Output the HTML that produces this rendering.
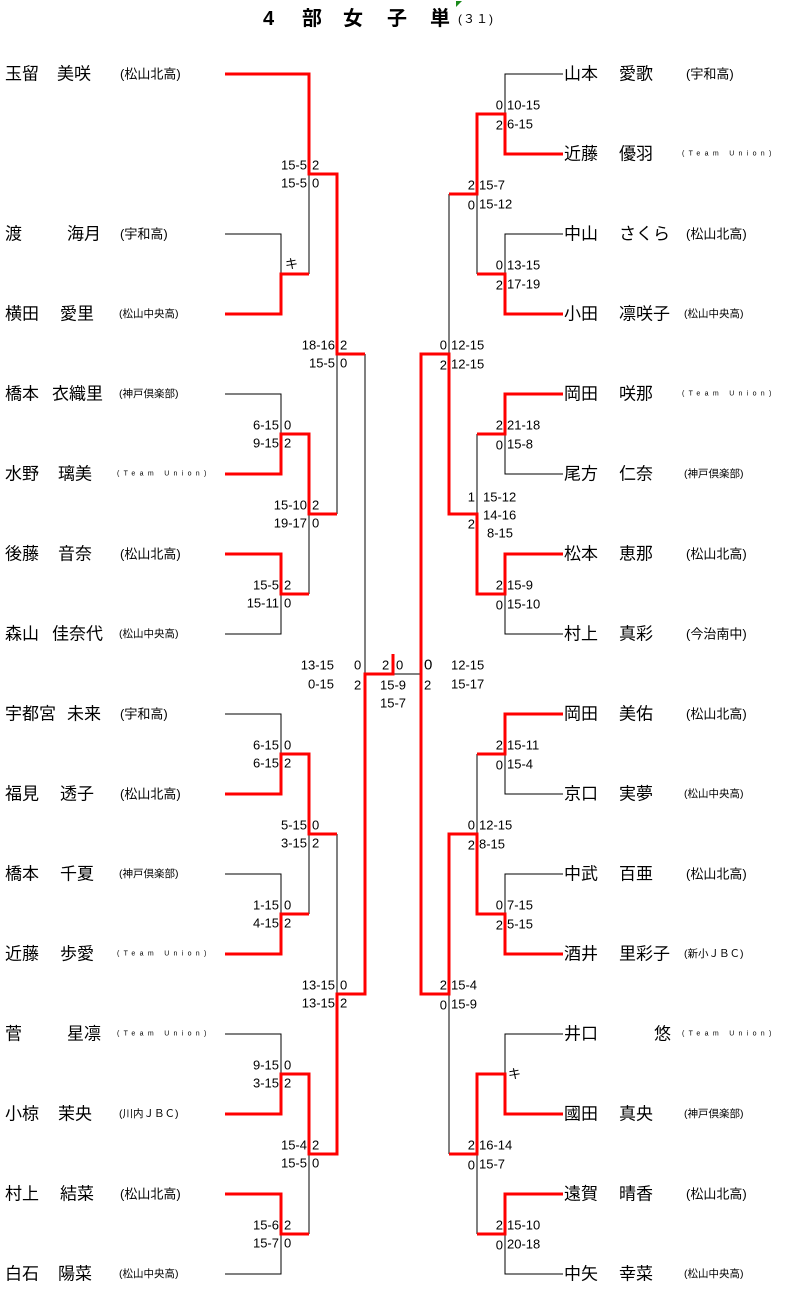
<!DOCTYPE html>
<html><head><meta charset="utf-8"><style>
html,body{margin:0;padding:0;background:#fff;}
svg{display:block;}
text{font-family:"Liberation Sans","Noto Sans CJK JP",sans-serif;fill:#000;dominant-baseline:central;}
.n{font-size:17px;}
.t{font-size:13px;}
.s{font-size:10.5px;}
.u{font-size:7px;letter-spacing:4.3px;}
.c{font-size:13px;}
.h{font-size:20px;font-weight:bold;}
</style></head><body>
<svg width="787" height="1297" viewBox="0 0 787 1297" xmlns="http://www.w3.org/2000/svg">
<text class="h" x="263" y="19">4</text>
<text class="h" x="302" y="19">部</text>
<text class="h" x="343" y="19">女</text>
<text class="h" x="387" y="19">子</text>
<text class="h" x="430" y="19">単</text>
<text x="458" y="19" style="font-size:12px;letter-spacing:1px">(３１)</text>
<polygon points="456,1 462,1 456,7" fill="#1a8a1a"/>

<g fill="none" stroke="#000" stroke-width="1">
<path d="M225,74H309M225,234H281V314H225M281,274H309M309,74V274M309,174H337"/>
<path d="M225,394H281V474H225M281,434H309M225,554H281V634H225M281,594H309M309,434V594M309,514H337M337,174V514M337,354H365"/>
<path d="M225,714H281V794H225M281,754H309M225,874H281V954H225M281,914H309M309,754V914M309,834H337"/>
<path d="M225,1034H281V1114H225M281,1074H309M225,1194H281V1274H225M281,1234H309M309,1074V1234M309,1154H337M337,834V1154M337,994H365M365,354V994"/>
<path d="M365,674H421"/>
<path d="M563,74H505V154H563M505,114H477M563,234H505V314H563M505,274H477M477,114V274M477,194H449"/>
<path d="M563,394H505V474H563M505,434H477M563,554H505V634H563M505,594H477M477,434V594M477,514H449M449,194V514M449,354H421"/>
<path d="M563,714H505V794H563M505,754H477M563,874H505V954H563M505,914H477M477,754V914M477,834H449"/>
<path d="M563,1034H505V1114H563M505,1074H477M563,1194H505V1274H563M505,1234H477M477,1074V1234M477,1154H449M449,834V1154M449,994H421M421,354V994"/>
</g>
<g fill="none" stroke="#f00" stroke-width="3">
<path d="M225,74H309V174H337V354H365"/>
<path d="M225,314H281V274H309"/>
<path d="M225,474H281V434H309V514H337"/>
<path d="M225,554H281V594H309"/>
<path d="M225,794H281V754H309V834H337"/>
<path d="M225,954H281V914H309"/>
<path d="M225,1114H281V1074H309V1154H337V994H365V674H393V654"/>
<path d="M225,1194H281V1234H309"/>
<path d="M563,154H505V114H477V194H449"/>
<path d="M563,314H505V274H477"/>
<path d="M563,394H505V434H477"/>
<path d="M563,554H505V594H477V514H449V354H421V994H449V834H477V914H505V954H563"/>
<path d="M563,714H505V754H477"/>
<path d="M563,1114H505V1074H477V1154H449"/>
<path d="M563,1194H505V1234H477"/>
</g>

<g class="n">
<text x="5" y="74">玉留</text><text x="57" y="74">美咲</text>
<text x="5" y="234">渡</text><text x="67" y="234">海月</text>
<text x="5" y="314">横田</text><text x="60" y="314">愛里</text>
<text x="5" y="394">橋本</text><text x="52" y="394">衣織里</text>
<text x="5" y="474">水野</text><text x="58" y="474">璃美</text>
<text x="5" y="554">後藤</text><text x="58" y="554">音奈</text>
<text x="5" y="634">森山</text><text x="52" y="634">佳奈代</text>
<text x="5" y="714">宇都宮</text><text x="67" y="714">未来</text>
<text x="5" y="794">福見</text><text x="60" y="794">透子</text>
<text x="5" y="874">橋本</text><text x="60" y="874">千夏</text>
<text x="5" y="954">近藤</text><text x="60" y="954">歩愛</text>
<text x="5" y="1034">菅</text><text x="67" y="1034">星凛</text>
<text x="5" y="1114">小椋</text><text x="58" y="1114">茉央</text>
<text x="5" y="1194">村上</text><text x="60" y="1194">結菜</text>
<text x="5" y="1274">白石</text><text x="58" y="1274">陽菜</text>
</g>
<text class="t" x="120" y="74">(松山北高)</text>
<text class="t" x="120" y="234">(宇和高)</text>
<text class="s" x="119" y="314">(松山中央高)</text>
<text class="s" x="119" y="394">(神戸倶楽部)</text>
<text class="u" x="117" y="474">(Team Union)</text>
<text class="t" x="120" y="554">(松山北高)</text>
<text class="s" x="119" y="634">(松山中央高)</text>
<text class="t" x="120" y="714">(宇和高)</text>
<text class="t" x="120" y="794">(松山北高)</text>
<text class="s" x="119" y="874">(神戸倶楽部)</text>
<text class="u" x="117" y="954">(Team Union)</text>
<text class="u" x="117" y="1034">(Team Union)</text>
<text class="s" x="119" y="1114">(川内ＪＢＣ)</text>
<text class="t" x="120" y="1194">(松山北高)</text>
<text class="s" x="119" y="1274">(松山中央高)</text>

<g class="n">
<text x="564" y="74">山本</text><text x="619" y="74">愛歌</text>
<text x="564" y="154">近藤</text><text x="619" y="154">優羽</text>
<text x="564" y="234">中山</text><text x="619" y="234">さくら</text>
<text x="564" y="314">小田</text><text x="619" y="314">凛咲子</text>
<text x="564" y="394">岡田</text><text x="619" y="394">咲那</text>
<text x="564" y="474">尾方</text><text x="619" y="474">仁奈</text>
<text x="564" y="554">松本</text><text x="619" y="554">恵那</text>
<text x="564" y="634">村上</text><text x="619" y="634">真彩</text>
<text x="564" y="714">岡田</text><text x="619" y="714">美佑</text>
<text x="564" y="794">京口</text><text x="619" y="794">実夢</text>
<text x="564" y="874">中武</text><text x="619" y="874">百亜</text>
<text x="564" y="954">酒井</text><text x="619" y="954">里彩子</text>
<text x="564" y="1034">井口</text><text x="654" y="1034">悠</text>
<text x="564" y="1114">國田</text><text x="619" y="1114">真央</text>
<text x="564" y="1194">遠賀</text><text x="619" y="1194">晴香</text>
<text x="564" y="1274">中矢</text><text x="619" y="1274">幸菜</text>
</g>
<text class="t" x="686" y="74">(宇和高)</text>
<text class="u" x="682" y="154">(Team Union)</text>
<text class="t" x="686" y="234">(松山北高)</text>
<text class="s" x="684" y="314">(松山中央高)</text>
<text class="u" x="682" y="394">(Team Union)</text>
<text class="s" x="684" y="474">(神戸倶楽部)</text>
<text class="t" x="686" y="554">(松山北高)</text>
<text class="t" x="686" y="634">(今治南中)</text>
<text class="t" x="686" y="714">(松山北高)</text>
<text class="s" x="684" y="794">(松山中央高)</text>
<text class="t" x="686" y="874">(松山北高)</text>
<text class="s" x="684" y="954">(新小ＪＢＣ)</text>
<text class="u" x="682" y="1034">(Team Union)</text>
<text class="s" x="684" y="1114">(神戸倶楽部)</text>
<text class="t" x="686" y="1194">(松山北高)</text>
<text class="s" x="684" y="1274">(松山中央高)</text>

<g class="c">
<g text-anchor="end">
<text x="279" y="425">6-15</text><text x="279" y="443">9-15</text>
<text x="279" y="585">15-5</text><text x="279" y="603">15-11</text>
<text x="279" y="745">6-15</text><text x="279" y="763">6-15</text>
<text x="279" y="905">1-15</text><text x="279" y="923">4-15</text>
<text x="279" y="1065">9-15</text><text x="279" y="1083">3-15</text>
<text x="279" y="1225">15-6</text><text x="279" y="1243">15-7</text>
<text x="307" y="165">15-5</text><text x="307" y="183">15-5</text>
<text x="307" y="505">15-10</text><text x="307" y="523">19-17</text>
<text x="307" y="825">5-15</text><text x="307" y="843">3-15</text>
<text x="307" y="1145">15-4</text><text x="307" y="1163">15-5</text>
<text x="335" y="345">18-16</text><text x="335" y="363">15-5</text>
<text x="335" y="985">13-15</text><text x="335" y="1003">13-15</text>
<text x="334" y="665">13-15</text><text x="334" y="684">0-15</text>
</g>
<text x="284" y="425">0</text><text x="284" y="443">2</text>
<text x="284" y="585">2</text><text x="284" y="603">0</text>
<text x="284" y="745">0</text><text x="284" y="763">2</text>
<text x="284" y="905">0</text><text x="284" y="923">2</text>
<text x="284" y="1065">0</text><text x="284" y="1083">2</text>
<text x="284" y="1225">2</text><text x="284" y="1243">0</text>
<text x="285" y="264">キ</text>
<text x="312" y="165">2</text><text x="312" y="183">0</text>
<text x="312" y="505">2</text><text x="312" y="523">0</text>
<text x="312" y="825">0</text><text x="312" y="843">2</text>
<text x="312" y="1145">2</text><text x="312" y="1163">0</text>
<text x="340" y="345">2</text><text x="340" y="363">0</text>
<text x="340" y="985">0</text><text x="340" y="1003">2</text>
<text x="354" y="665">0</text><text x="354" y="685">2</text>
<text x="382" y="665">2</text><text x="396" y="665">0</text>
<text x="393" y="685" text-anchor="middle">15-9</text><text x="393" y="703" text-anchor="middle">15-7</text>
<text x="424" y="665" style="font-size:15px">0</text><text x="424" y="685">2</text>
<text x="451" y="665">12-15</text><text x="451" y="684">15-17</text>
</g>

<g class="c">
<g text-anchor="end">
<text x="503" y="105">0</text><text x="503" y="125">2</text>
<text x="503" y="265">0</text><text x="503" y="285">2</text>
<text x="503" y="425">2</text><text x="503" y="445">0</text>
<text x="503" y="585">2</text><text x="503" y="605">0</text>
<text x="503" y="745">2</text><text x="503" y="765">0</text>
<text x="503" y="905">0</text><text x="503" y="925">2</text>
<text x="503" y="1225">2</text><text x="503" y="1245">0</text>
<text x="475" y="185">2</text><text x="475" y="205">0</text>
<text x="475" y="497">1</text><text x="475" y="524">2</text>
<text x="475" y="825">0</text><text x="475" y="845">2</text>
<text x="475" y="1145">2</text><text x="475" y="1165">0</text>
<text x="447" y="345">0</text><text x="447" y="365">2</text>
<text x="447" y="985">2</text><text x="447" y="1005">0</text>
</g>
<text x="507" y="105">10-15</text><text x="507" y="124">6-15</text>
<text x="507" y="265">13-15</text><text x="507" y="284">17-19</text>
<text x="507" y="425">21-18</text><text x="507" y="444">15-8</text>
<text x="507" y="585">15-9</text><text x="507" y="604">15-10</text>
<text x="507" y="745">15-11</text><text x="507" y="764">15-4</text>
<text x="507" y="905">7-15</text><text x="507" y="924">5-15</text>
<text x="508" y="1074">キ</text>
<text x="507" y="1225">15-10</text><text x="507" y="1244">20-18</text>
<text x="479" y="185">15-7</text><text x="479" y="204">15-12</text>
<text x="483" y="497">15-12</text><text x="483" y="515">14-16</text><text x="487" y="533">8-15</text>
<text x="479" y="825">12-15</text><text x="479" y="844">8-15</text>
<text x="479" y="1145">16-14</text><text x="479" y="1164">15-7</text>
<text x="451" y="345">12-15</text><text x="451" y="364">12-15</text>
<text x="451" y="985">15-4</text><text x="451" y="1004">15-9</text>
</g>
</svg>
</body></html>
